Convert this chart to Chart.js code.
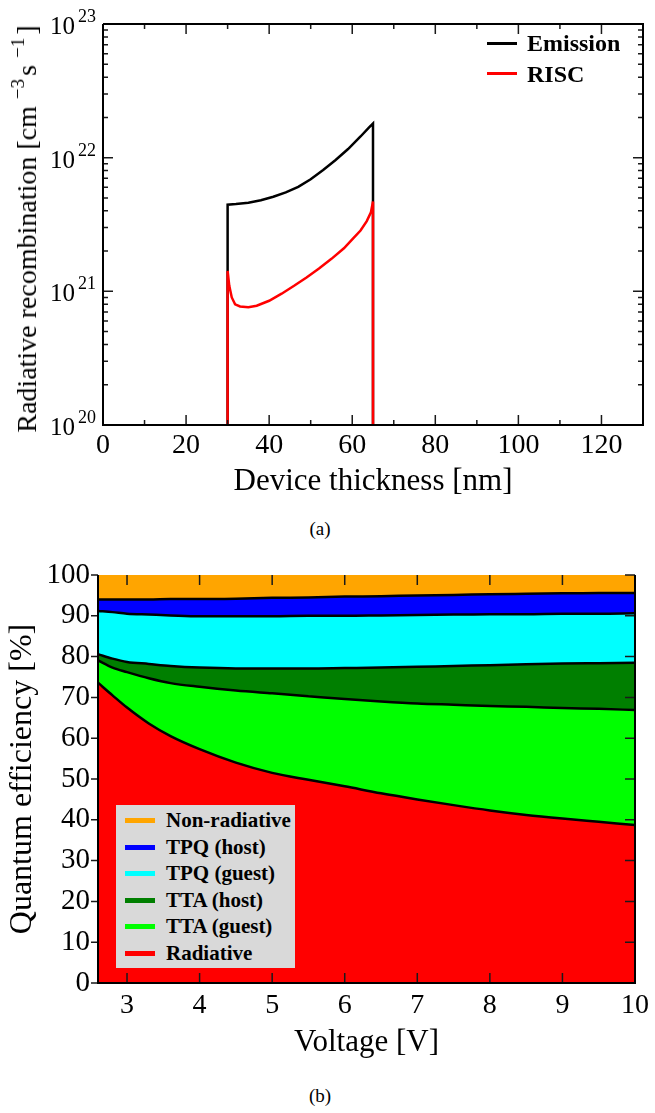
<!DOCTYPE html>
<html>
<head>
<meta charset="utf-8">
<script src="https://cdn.jsdelivr.net/npm/chart.js@4"></script>
<style>
  body { margin:0; background:#fff; width:655px; height:1113px; position:relative; overflow:hidden;
         font-family:'Liberation Serif', serif; color:#000; }
  canvas { position:absolute; left:0; }
  #ytA { position:absolute; left:27px; top:229px; transform:translate(-50%,-50%) rotate(-90deg);
         font-size:28px; line-height:28px; height:28px; white-space:nowrap; }
  #ytA .sup { font-size:19px; position:relative; top:-12px; margin:0 3px 0 7px; }
  .lgA { position:absolute; font-weight:bold; font-size:24px; line-height:24px; white-space:nowrap; }
  .swA { position:absolute; width:30px; height:3px; }
  #legB { position:absolute; left:116px; top:805px; width:179px; height:163px; background:#d9d9d9; }
  #legB .sw { position:absolute; left:9px; width:30px; height:5px; }
  #legB .tx { position:absolute; left:50px; font-weight:bold; font-size:21px; line-height:20px; white-space:nowrap; }
  .cap { position:absolute; left:290px; width:60px; text-align:center; font-size:19px; line-height:20px; }
</style>
</head>
<body>
<canvas id="ca" width="655" height="505" style="top:0"></canvas>
<canvas id="cb" width="655" height="525" style="top:540px"></canvas>

<div id="ytA">Radiative recombination [cm<span class="sup">−3</span>s<span class="sup">−1</span>]</div>
<div class="swA" style="left:487px;top:42px;background:#000"></div>
<div class="lgA" style="left:527px;top:31px">Emission</div>
<div class="swA" style="left:487px;top:72px;background:#ff0000"></div>
<div class="lgA" style="left:527px;top:62px">RISC</div>
<div class="cap" style="top:519px">(a)</div>

<div id="legB"></div>
<div class="cap" style="top:1086px">(b)</div>

<script>
const F = "'Liberation Serif', serif";

// (a) recombination profiles across the device
const emissionX = [30, 30, 32, 35, 38, 41, 44, 47, 50, 53, 56, 59, 62, 64, 65, 65];
const emissionY = [1e19, 4.45e21, 4.5e21, 4.6e21, 4.8e21, 5.1e21, 5.5e21, 6.05e21, 6.9e21, 8.1e21,
                   9.6e21, 1.16e22, 1.44e22, 1.68e22, 1.8e22, 1e19];
const riscX = [30, 30, 30.4, 31, 31.8, 33, 35, 37, 40, 43, 46, 49, 52, 55, 58, 60, 62, 63.5, 64.5, 65, 65];
const riscY = [1e19, 1.42e21, 1.1e21, 9.0e20, 8.0e20, 7.7e20, 7.6e20, 7.8e20, 8.5e20, 9.6e20, 1.1e21,
               1.27e21, 1.48e21, 1.75e21, 2.1e21, 2.45e21, 2.85e21, 3.35e21, 3.9e21, 4.7e21, 1e19];
const seriesA = ['Emission', 'RISC'];
const yExponents = [20, 21, 22, 23];
const yMinorSteps = [2, 3, 4, 5, 6, 7, 8, 9];

// (b) cumulative quantum efficiency boundaries [%]
const voltage = [2.6, 2.8, 3, 3.3, 3.6, 4, 4.5, 5, 5.5, 6, 6.5, 7, 7.5, 8, 8.5, 9, 9.5, 10];
const radiativeTop = [73.6, 70.5, 67.5, 63.6, 60.5, 57.3, 54.0, 51.5, 49.8, 48.2, 46.5, 45.0, 43.6, 42.3, 41.2, 40.3, 39.5, 38.7];
const ttaGuestTop  = [79.1, 77.3, 76.2, 74.7, 73.5, 72.6, 71.7, 71.0, 70.3, 69.6, 69.0, 68.5, 68.2, 67.9, 67.7, 67.4, 67.2, 66.9];
const ttaHostTop   = [80.6, 79.5, 78.7, 78.2, 77.7, 77.3, 77.1, 77.1, 77.1, 77.2, 77.3, 77.5, 77.7, 77.9, 78.1, 78.3, 78.4, 78.5];
const tpqGuestTop  = [91.2, 90.9, 90.5, 90.3, 90.1, 89.9, 89.9, 89.9, 90.0, 90.0, 90.1, 90.2, 90.3, 90.4, 90.4, 90.5, 90.5, 90.6];
const tpqHostTop   = [94.0, 94.0, 94.0, 94.0, 94.1, 94.1, 94.2, 94.4, 94.5, 94.7, 94.8, 95.0, 95.1, 95.3, 95.4, 95.5, 95.6, 95.6];
const nonRadTop    = [100, 100, 100, 100, 100, 100, 100, 100, 100, 100, 100, 100, 100, 100, 100, 100, 100, 100];
const bandNames  = ['Radiative', 'TTA (guest)', 'TTA (host)', 'TPQ (guest)', 'TPQ (host)', 'Non-radiative'];
const bandTops   = [radiativeTop, ttaGuestTop, ttaHostTop, tpqGuestTop, tpqHostTop, nonRadTop];
const bandColors = ['#ff0000', '#00ff00', '#007f00', '#00ffff', '#0000ff', '#ffa500'];

const pts = (xs, ys) => xs.map((x, i) => ({ x, y: ys[i] }));

// inward tick marks + frame, drawn from the chart's own scales
function frameTicks(cfg) {
  return {
    id: 'frameTicks',
    afterDatasetsDraw(chart) {
      const { ctx, chartArea: a, scales: { x, y } } = chart;
      ctx.save();
      ctx.lineWidth = 1.5;
      ctx.strokeStyle = '#1a1a1a';
      ctx.beginPath();
      x.ticks.forEach(t => {
        const px = x.getPixelForValue(t.value), len = cfg.xLen(t.value);
        ctx.moveTo(px, a.bottom); ctx.lineTo(px, a.bottom - len);
        ctx.moveTo(px, a.top); ctx.lineTo(px, a.top + len);
      });
      y.ticks.forEach(t => {
        const py = y.getPixelForValue(t.value), len = cfg.yLen(t.value);
        if (cfg.leftOut) { ctx.moveTo(a.left - 7, py); ctx.lineTo(a.left, py); }
        else { ctx.moveTo(a.left, py); ctx.lineTo(a.left + len, py); }
        ctx.moveTo(a.right, py); ctx.lineTo(a.right - len, py);
      });
      ctx.stroke();
      ctx.lineWidth = 2;
      ctx.strokeStyle = '#000';
      ctx.beginPath();
      ctx.moveTo(a.left, a.top); ctx.lineTo(a.left, a.bottom);
      ctx.lineTo(a.right, a.bottom); ctx.lineTo(a.right, a.top);
      if (cfg.topLine) ctx.lineTo(a.left, a.top);
      ctx.stroke();
      ctx.restore();
    }
  };
}

const decadeLabels = {
  id: 'decadeLabels',
  afterDraw(chart) {
    const { ctx, scales: { y } } = chart;
    ctx.save();
    ctx.fillStyle = '#000';
    ctx.textBaseline = 'alphabetic';
    yExponents.forEach(e => {
      const py = y.getPixelForValue(Math.pow(10, e));
      ctx.font = '25px ' + F; ctx.textAlign = 'right';
      ctx.fillText('10', y.right - 28, py + 10);
      ctx.font = '18px ' + F; ctx.textAlign = 'left';
      ctx.fillText(String(e), y.right - 25, py - 2);
    });
    ctx.restore();
  }
};

new Chart(document.getElementById('ca'), {
  type: 'line',
  data: {
    datasets: [
      { label: seriesA[0], data: pts(emissionX, emissionY), borderColor: '#000', borderWidth: 2.5,
        pointRadius: 0, fill: false, order: 2 },
      { label: seriesA[1], data: pts(riscX, riscY), borderColor: '#ff0000', borderWidth: 2.5,
        pointRadius: 0, fill: false, order: 1 }
    ]
  },
  options: {
    responsive: false, animation: false,
    layout: { padding: { top: 24, right: 12, left: 0, bottom: 0 } },
    plugins: { legend: { display: false }, tooltip: { enabled: false } },
    scales: {
      x: {
        type: 'linear', min: 0, max: 130,
        afterFit(s) { s.height = 80; },
        grid: { display: false, drawTicks: false }, border: { display: false },
        ticks: { stepSize: 10, autoSkip: false, maxRotation: 0, padding: 4, color: '#000',
                 font: { family: F, size: 28 }, callback: v => (v % 20 === 0 ? v : '') },
        title: { display: true, text: 'Device thickness [nm]', color: '#000',
                 font: { family: F, size: 31 }, padding: { top: 0, bottom: 5 } }
      },
      y: {
        type: 'logarithmic', min: 1e20, max: 1e23,
        afterFit(s) { s.width = 103; },
        afterBuildTicks(s) {
          const t = [];
          yExponents.forEach((e, i) => {
            t.push({ value: Math.pow(10, e) });
            if (i < yExponents.length - 1) yMinorSteps.forEach(m => t.push({ value: m * Math.pow(10, e) }));
          });
          s.ticks = t;
        },
        grid: { display: false, drawTicks: false }, border: { display: false },
        ticks: { display: false }
      }
    }
  },
  plugins: [frameTicks({
    xLen: v => (v % 20 === 0 ? 10 : 5),
    yLen: v => (Math.abs(Math.log10(v) - Math.round(Math.log10(v))) < 1e-6 ? 10 : 5),
    leftOut: false, topLine: true
  }), decadeLabels]
});

new Chart(document.getElementById('cb'), {
  type: 'line',
  data: {
    datasets: bandTops.map((top, i) => ({
      label: bandNames[i],
      data: pts(voltage, top),
      borderColor: i === bandTops.length - 1 ? bandColors[i] : '#000',
      borderWidth: 2.5,
      backgroundColor: bandColors[i],
      fill: i === 0 ? 'origin' : '-1',
      pointRadius: 0,
      cubicInterpolationMode: 'monotone'
    }))
  },
  options: {
    responsive: false, animation: false,
    layout: { padding: { top: 35, right: 15, left: 0, bottom: 0 } },
    plugins: { legend: { display: false }, tooltip: { enabled: false },
               filler: { drawTime: 'beforeDatasetsDraw' } },
    scales: {
      x: {
        type: 'linear', min: 2.6, max: 10,
        afterFit(s) { s.height = 82; },
        grid: { display: false, drawTicks: false }, border: { display: false },
        ticks: { stepSize: 1, includeBounds: false, autoSkip: false, maxRotation: 0, padding: 6,
                 color: '#000', font: { family: F, size: 28 } },
        title: { display: true, text: 'Voltage [V]', color: '#000',
                 font: { family: F, size: 31 }, padding: { top: 0, bottom: 4 } }
      },
      y: {
        type: 'linear', min: 0, max: 100,
        afterFit(s) { s.width = 98; },
        grid: { display: false, drawTicks: false }, border: { display: false },
        ticks: { stepSize: 10, padding: 8, color: '#000', font: { family: F, size: 29 } },
        title: { display: true, text: 'Quantum efficiency [%]', color: '#000',
                 font: { family: F, size: 32 }, padding: { top: 3, bottom: 0 } }
      }
    }
  },
  plugins: [frameTicks({ xLen: () => 10, yLen: () => 10, leftOut: true, topLine: false })]
});

// legend (b): listed top to bottom, from non-radiative down to radiative
const legB = document.getElementById('legB');
bandNames.slice().reverse().forEach((name, r) => {
  const idx = bandNames.length - 1 - r;
  const sw = document.createElement('div');
  sw.className = 'sw';
  sw.style.top = (13.2 + 26.5 * r) + 'px';
  sw.style.background = bandColors[idx];
  const tx = document.createElement('div');
  tx.className = 'tx';
  tx.style.top = (5 + 26.5 * r) + 'px';
  tx.textContent = name;
  legB.appendChild(sw);
  legB.appendChild(tx);
});
</script>
</body>
</html>
